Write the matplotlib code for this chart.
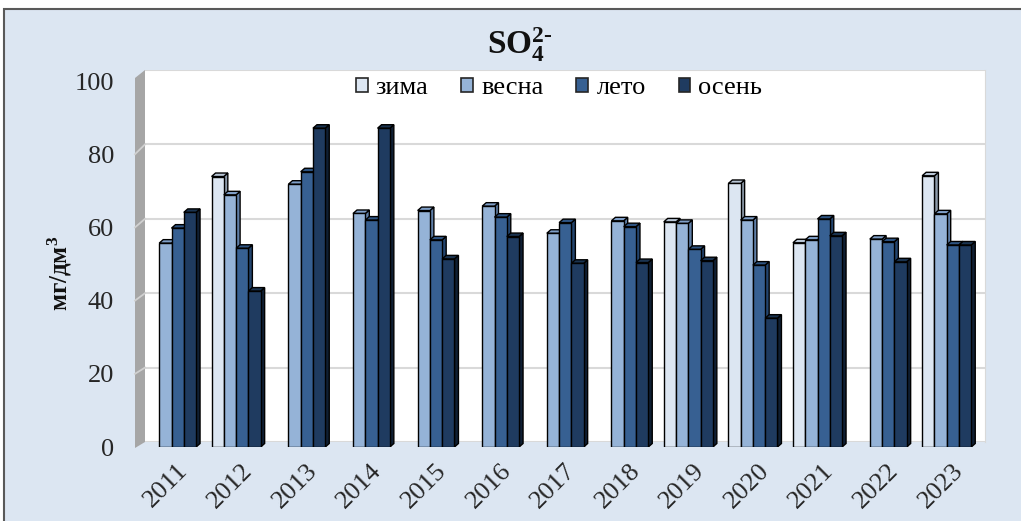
import numpy as np
import matplotlib
matplotlib.use("Agg")
import matplotlib.pyplot as plt
from matplotlib.patches import Rectangle, Polygon, Patch

years = ["2011", "2012", "2013", "2014", "2015", "2016", "2017", "2018",
         "2019", "2020", "2021", "2022", "2023"]
nan = np.nan
zima  = [nan, 73.9, nan, nan, nan, nan, nan, nan, 61.5, 72.0, 55.8, nan, 74.1]
vesna = [55.7, 68.9, 71.8, 63.8, 64.6, 65.8, 58.4, 61.8, 61.1, 62.0, 56.6, 56.8, 63.7]
leto  = [59.8, 54.3, 75.2, 62.0, 56.6, 62.8, 61.3, 60.2, 54.0, 49.7, 62.3, 56.1, 55.2]
osen  = [64.1, 42.6, 87.1, 87.1, 51.4, 57.5, 50.2, 50.4, 50.9, 35.2, 57.7, 50.6, 55.2]
series_names = ["зима", "весна", "лето", "осень"]
yticks = [0, 20, 40, 60, 80, 100]

front_cols = ["#dce6f2", "#95b3d7", "#376092", "#1f3b60"]
side_cols  = ["#8d9bab", "#5f7fa8", "#23456f", "#0f1f33"]
top_cols   = ["#b9c6d6", "#7f9fc8", "#2e5482", "#1a3350"]

plt.rcParams["mathtext.fontset"] = "custom"
plt.rcParams["mathtext.rm"] = "Liberation Serif:bold"
plt.rcParams["mathtext.bf"] = "Liberation Serif:bold"
plt.rcParams["mathtext.it"] = "Liberation Serif:bold"

W, H = 1021, 521
fig = plt.figure(figsize=(W / 100, H / 100), dpi=100)
fig.patch.set_facecolor("white")
serif = "Liberation Serif"

# background panel with border
fig.add_artist(Rectangle((4 / W, -0.05), 1.1, (1 - 9 / H) + 0.05,
                         transform=fig.transFigure, facecolor="#dce6f2",
                         edgecolor="#595959", lw=1.5, zorder=-10))

# back wall axes
axb = fig.add_axes([145 / W, 1 - 442 / H, 840 / W, 372 / H])
axb.set_facecolor("white")
axb.set_xlim(0, 1)
axb.set_ylim(0, 100)
for y in yticks:
    axb.axhline(y, color="#d9d9d9", lw=1.5)
for s in axb.spines.values():
    s.set_visible(False)
axb.spines["right"].set_visible(True)
axb.spines["right"].set_color("#d9d9d9")
axb.set_xticks([])
axb.set_yticks([])

# left grey wall (in figure pixels)
def px(x, y):
    return (x / W, 1 - y / H)
wall = Polygon([px(135, 448), px(135, 78), px(145, 70), px(145, 442)],
               closed=True, transform=fig.transFigure, facecolor="#a6a6a6",
               edgecolor="none", zorder=1)
fig.add_artist(wall)
for y in yticks[1:-1]:
    yb = 442 - y * 3.72
    yf = 447 - y * 3.66
    fig.add_artist(plt.Line2D([135 / W, 145 / W], [1 - yf / H, 1 - yb / H],
                              transform=fig.transFigure, color="#d0d0d0",
                              lw=1.3, zorder=2))

# front axes (bars)
ax = fig.add_axes([139.2 / W, 1 - 447 / H, 839.8 / W, 366 / H])
ax.patch.set_alpha(0)
ax.set_xlim(-0.5, len(years) - 0.5)
ax.set_ylim(0, 100)
for s in ax.spines.values():
    s.set_visible(False)

ax_w_px = 839.8
ax_h_px = 366
ppx = ax_w_px / (len(years))
ppy = ax_h_px / 100.0
dxd = 4.0 / ppx
dyd = 3.5 / ppy

bw = 0.19
x = np.arange(len(years))
all_series = [zima, vesna, leto, osen]
for k, vals in enumerate(all_series):
    off = (k - 1.5) * bw
    v = np.array(vals, dtype=float)
    ax.bar(x + off, v, width=bw, color=front_cols[k], edgecolor="black",
           lw=1.0, zorder=4 + 2 * k, label=series_names[k])
    for xi, h in zip(x, v):
        if np.isnan(h):
            continue
        x0 = xi + off - bw / 2
        x1 = x0 + bw
        side = Polygon([(x1, 0), (x1 + dxd, dyd), (x1 + dxd, h + dyd), (x1, h)],
                       closed=True, facecolor=side_cols[k], edgecolor="black",
                       lw=1.0, zorder=3 + 2 * k)
        top = Polygon([(x0, h), (x0 + dxd, h + dyd), (x1 + dxd, h + dyd), (x1, h)],
                      closed=True, facecolor=top_cols[k], edgecolor="black",
                      lw=1.0, zorder=3 + 2 * k)
        ax.add_patch(side)
        ax.add_patch(top)

ax.set_yticks(yticks)
ax.set_yticklabels([str(t) for t in yticks], fontfamily=serif, fontsize=19,
                   color="#262626")
ax.tick_params(axis="y", length=0, pad=18)
ax.set_xticks(x + 0.08)
ax.set_xticklabels(years, rotation=45, ha="right", va="top",
                   rotation_mode="anchor", fontfamily=serif, fontsize=19,
                   color="#262626")
ax.tick_params(axis="x", length=0, pad=9)

handles = [Patch(facecolor=front_cols[k], edgecolor="#262626", lw=1.2)
           for k in range(4)]
leg = ax.legend(handles, series_names, loc="upper center",
                bbox_to_anchor=(0.5, 1.075), ncol=4, frameon=False,
                prop={"family": serif, "size": 19}, handlelength=0.45,
                handleheight=0.45, handletextpad=0.3, columnspacing=1.25)

# title
fig.text(520 / W, 1 - 45 / H, r"$\mathrm{SO}_{4}^{2\text{-}}$", ha="center",
         va="center", fontsize=24, fontweight="bold", color="#111111")

# y label
fig.text(60 / W, 1 - 273 / H, r"мг/дм$^{3}$", rotation=90, ha="center",
         va="center", fontfamily=serif, fontsize=18, fontweight="bold",
         color="#111111")

fig.savefig("out.png", dpi=100, facecolor=fig.get_facecolor())
